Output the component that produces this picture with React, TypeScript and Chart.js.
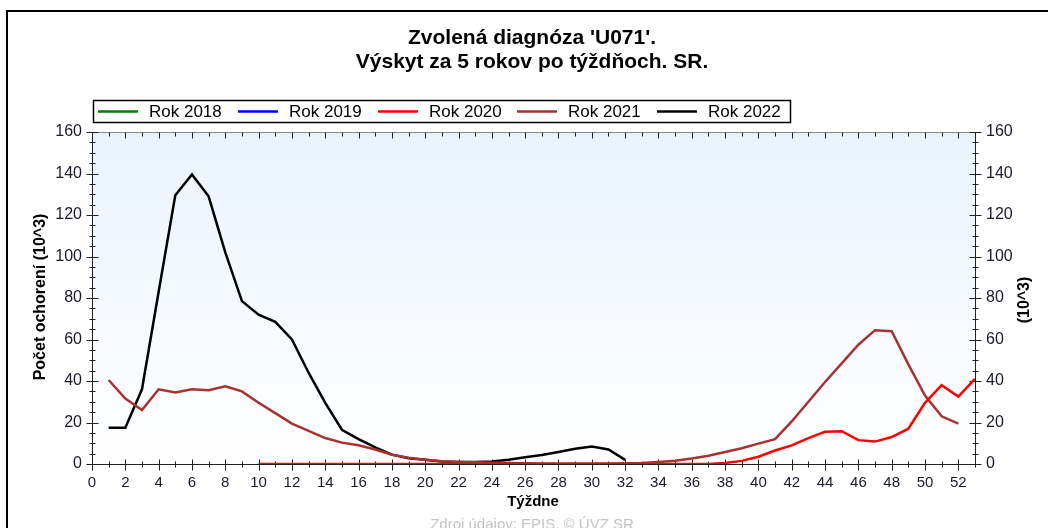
import React, { useEffect, useRef } from "react";
import { Chart, registerables } from "chart.js";

Chart.register(...registerables);

// ---- data ----
const weeks = [
  1, 2, 3, 4, 5, 6, 7, 8, 9, 10, 11, 12, 13, 14, 15, 16, 17, 18, 19, 20, 21, 22, 23, 24, 25, 26,
  27, 28, 29, 30, 31, 32, 33, 34, 35, 36, 37, 38, 39, 40, 41, 42, 43, 44, 45, 46, 47, 48, 49, 50,
  51, 52, 53,
];

const xTickValues = [0, 2, 4, 6, 8, 10, 12, 14, 16, 18, 20, 22, 24, 26, 28, 30, 32, 34, 36, 38, 40, 42, 44, 46, 48, 50, 52];
const yTickValues = [0, 20, 40, 60, 80, 100, 120, 140, 160];

const legendLabels = ["Rok 2018", "Rok 2019", "Rok 2020", "Rok 2021", "Rok 2022"];

const rok2018: (number | null)[] = [];
const rok2019: (number | null)[] = [];
const rok2020: (number | null)[] = [
  null, null, null, null, null, null, null, null, null, 0, 0, 0, 0, 0, 0, 0, 0, 0, 0, 0, 0, 0, 0, 0, 0, 0,
  0, 0, 0, 0, 0, 0, 0, 0, 0, 0, 0, 0.5, 1.5, 3.5, 6.5, 9, 12.5, 15.5, 15.8, 11.5, 10.8, 13, 17, 29.5,
  38, 32.5, 41,
];
const rok2021: (number | null)[] = [
  40.5, 31.5, 26, 36, 34.5, 36, 35.5, 37.5, 35, 29.5, 24.5, 19.5, 16, 12.5, 10.3, 9, 7, 4.5, 3, 2,
  1.3, 1, 0.8, 0.6, 0.5, 0.4, 0.3, 0.3, 0.3, 0.3, 0.3, 0.4, 0.5, 1, 1.6, 2.6, 4, 5.8, 7.6, 9.8, 12,
  20.5, 30, 39.5, 48.5, 57.5, 64.5, 64, 48, 33, 23, 19.5, null,
];
const rok2022: (number | null)[] = [
  17.5, 17.5, 36, 83, 129.5, 139.5, 129, 102, 78.5, 72, 68.5, 60, 44, 29.5, 16.5, 12, 8, 4.5, 2.8, 2,
  1.2, 1, 1, 1.2, 2, 3.2, 4.3, 5.8, 7.3, 8.4, 7, 2,
];

const seriesValues = [rok2018, rok2019, rok2020, rok2021, rok2022];
const seriesColors = ["#008000", "#0000ff", "#ff0000", "#a83232", "#000000"];

const titleLines = ["Zvolená diagnóza 'U071'.", "Výskyt za 5 rokov po týždňoch. SR."];
const yAxisTitle = "Počet ochorení (10^3)";
const y2AxisTitle = "(10^3)";
const xAxisTitle = "Týždne";
const sourceText = "Zdroj údajov: EPIS, © ÚVZ SR";

const FONT = "'Liberation Sans', Arial, sans-serif";
const TICK_COLOR = "#1a1a2a";

const decor = {
  id: "decor",
  beforeDraw(chart: any) {
    const { ctx, chartArea } = chart;
    const { left, right, top, bottom } = chartArea;
    ctx.save();
    ctx.fillStyle = "#ffffff";
    ctx.fillRect(0, 0, chart.width, chart.height);
    const g = ctx.createLinearGradient(0, top, 0, bottom);
    g.addColorStop(0, "#eaf3fd");
    g.addColorStop(1, "#ffffff");
    ctx.fillStyle = g;
    ctx.fillRect(left, top, right - left, bottom - top);
    ctx.strokeStyle = "#000";
    ctx.lineWidth = 2;
    ctx.strokeRect(7, 11, 1200, 1200);
    ctx.restore();
  },
  beforeDatasetsDraw(chart: any) {
    const { ctx, chartArea, scales } = chart;
    const xs = scales.x;
    const ys = scales.y;
    const L = Math.round(chartArea.left) + 0.5;
    const R = Math.round(chartArea.right) + 0.5;
    const T = Math.round(chartArea.top) + 0.5;
    const B = Math.round(chartArea.bottom) + 0.5;
    ctx.save();
    ctx.lineWidth = 1;
    ctx.strokeStyle = "#8a8a8a";
    ctx.beginPath();
    ctx.moveTo(L, T);
    ctx.lineTo(R, T);
    ctx.stroke();
    ctx.strokeStyle = "#222";
    ctx.beginPath();
    ctx.moveTo(L, T);
    ctx.lineTo(L, B);
    ctx.lineTo(R, B);
    ctx.lineTo(R, T);
    ctx.stroke();
    ctx.beginPath();
    for (let w = 0; w <= 53; w++) {
      const x = Math.round(xs.getPixelForValue(w)) + 0.5;
      const major = w % 2 === 0;
      if (major) {
        ctx.moveTo(x, B - 5);
        ctx.lineTo(x, B + 6);
        ctx.moveTo(x, T);
        ctx.lineTo(x, T + 6);
      } else {
        ctx.moveTo(x, B - 3);
        ctx.lineTo(x, B + 3);
        ctx.moveTo(x, T);
        ctx.lineTo(x, T + 4);
      }
    }
    for (let v = 0; v <= 160; v += 5) {
      const y = Math.round(ys.getPixelForValue(v)) + 0.5;
      const major = v % 20 === 0;
      const d = major ? 6 : 3;
      ctx.moveTo(L - d, y);
      ctx.lineTo(L + d, y);
      ctx.moveTo(R - d, y);
      ctx.lineTo(R + d, y);
    }
    ctx.stroke();
    ctx.restore();
  },
  afterDraw(chart: any) {
    const { ctx } = chart;
    ctx.save();
    ctx.fillStyle = "#000";
    ctx.textAlign = "center";
    ctx.textBaseline = "middle";
    ctx.font = `bold 21px ${FONT}`;
    ctx.fillText(titleLines[0], 532, 38);
    ctx.fillText(titleLines[1], 532, 62);

    ctx.lineWidth = 1.5;
    ctx.strokeStyle = "#000";
    ctx.strokeRect(93.5, 100.5, 697, 22);
    const itemX = [98, 238, 378, 517, 657];
    ctx.font = `17px ${FONT}`;
    ctx.textAlign = "left";
    legendLabels.forEach((lab, i) => {
      ctx.strokeStyle = seriesColors[i];
      ctx.lineWidth = 2.5;
      ctx.beginPath();
      ctx.moveTo(itemX[i], 111.5);
      ctx.lineTo(itemX[i] + 40, 111.5);
      ctx.stroke();
      ctx.fillStyle = "#000";
      ctx.fillText(lab, itemX[i] + 51, 112);
    });

    ctx.font = `bold 16px ${FONT}`;
    ctx.textAlign = "center";
    ctx.fillStyle = "#000";
    ctx.save();
    ctx.translate(41, 297);
    ctx.rotate(-Math.PI / 2);
    ctx.fillText(yAxisTitle, 0, 0);
    ctx.restore();
    ctx.save();
    ctx.translate(1025, 300);
    ctx.rotate(-Math.PI / 2);
    ctx.fillText(y2AxisTitle, 0, 0);
    ctx.restore();
    ctx.font = `bold 15px ${FONT}`;
    ctx.fillText(xAxisTitle, 533, 502);

    ctx.font = `15px ${FONT}`;
    ctx.fillStyle = "#c4c4c4";
    ctx.fillText(sourceText, 532, 525);
    ctx.restore();
  },
};

export default function App() {
  const ref = useRef<HTMLCanvasElement | null>(null);
  useEffect(() => {
    if (!ref.current) return;
    const datasets = seriesValues.map((vals, i) => ({
      label: legendLabels[i],
      data: vals.map((v, j) => ({ x: weeks[j], y: v })),
      borderColor: seriesColors[i],
      backgroundColor: seriesColors[i],
      borderWidth: 2.5,
      pointRadius: 0,
      tension: 0,
      spanGaps: false,
      yAxisID: "y",
      xAxisID: "x",
    }));
    const xTickFont = { family: FONT, size: 15 };
    const yTickFont = { family: FONT, size: 16 };
    const chart = new Chart(ref.current, {
      type: "line",
      data: { datasets },
      options: {
        responsive: false,
        maintainAspectRatio: false,
        animation: false,
        layout: { padding: { top: 132, left: 0, right: 0, bottom: 0 } },
        plugins: {
          legend: { display: false },
          title: { display: false },
          tooltip: { enabled: false },
        },
        scales: {
          x: {
            type: "linear",
            position: "bottom",
            min: 0,
            max: 53,
            grid: { display: false, drawTicks: false },
            border: { display: false },
            ticks: { font: xTickFont, color: TICK_COLOR, padding: 10, maxRotation: 0, autoSkip: false },
            afterBuildTicks: (s: any) => {
              s.ticks = xTickValues.map((v) => ({ value: v }));
            },
            afterFit: (s: any) => {
              s.height = 64;
            },
          },
          y: {
            type: "linear",
            position: "left",
            min: 0,
            max: 160,
            grid: { display: false, drawTicks: false },
            border: { display: false },
            ticks: { font: yTickFont, color: TICK_COLOR, padding: 10 },
            afterBuildTicks: (s: any) => {
              s.ticks = yTickValues.map((v) => ({ value: v }));
            },
            afterFit: (s: any) => {
              s.width = 92;
            },
          },
          y2: {
            type: "linear",
            position: "right",
            min: 0,
            max: 160,
            grid: { display: false, drawTicks: false },
            border: { display: false },
            ticks: { font: yTickFont, color: TICK_COLOR, padding: 11 },
            afterBuildTicks: (s: any) => {
              s.ticks = yTickValues.map((v) => ({ value: v }));
            },
            afterFit: (s: any) => {
              s.width = 73;
            },
          },
        },
      },
      plugins: [decor],
    } as any);
    return () => chart.destroy();
  }, []);
  return (
    <div style={{ position: "fixed", left: 0, top: 0, width: 1048, height: 528, background: "#fff" }}>
      <canvas ref={ref} width={1048} height={528} style={{ display: "block", width: 1048, height: 528 }} />
    </div>
  );
}
